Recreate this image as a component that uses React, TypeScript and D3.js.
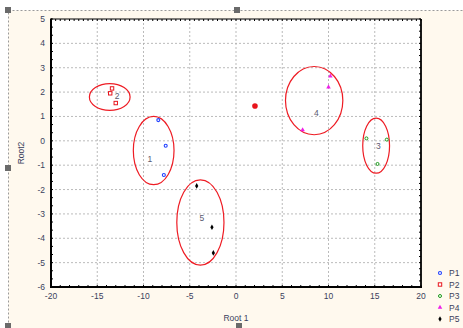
import React from "react";
import * as d3 from "d3";

const xTicks = [-20, -15, -10, -5, 0, 5, 10, 15, 20];
const yTicks = [5, 4, 3, 2, 1, 0, -1, -2, -3, -4, -5, -6];

const seriesNames = ["P1", "P2", "P3", "P4", "P5"];
const seriesColors = ["#1f3fff", "#e8141c", "#1a9a1a", "#ee1ee8", "#000000"];
const p1x = [-8.4, -7.6, -7.8];
const p1y = [0.85, -0.2, -1.4];
const p2x = [-13.4, -13.6, -13.0];
const p2y = [2.15, 1.95, 1.55];
const p3x = [14.1, 16.3, 15.3];
const p3y = [0.1, 0.05, -0.95];
const p4x = [10.2, 10.0, 7.2];
const p4y = [2.65, 2.2, 0.45];
const p5x = [-4.25, -2.6, -2.45];
const p5y = [-1.85, -3.55, -4.6];

const extraPoint = [2.05, 1.43];

const ellipseLabels = ["1", "2", "3", "4", "5"];
const ellipseCx = [-8.9, -13.65, 15.15, 8.45, -3.85];
const ellipseCy = [-0.4, 1.8, -0.2, 1.65, -3.35];
const ellipseRx = [2.2, 2.2, 1.45, 3.1, 2.55];
const ellipseRy = [1.4, 0.55, 1.13, 1.4, 1.75];
const labelX = [-9.3, -12.85, 15.4, 8.7, -3.7];
const labelY = [-0.76, 1.85, -0.2, 1.15, -3.18];

const W = 463;
const H = 328;
const L = 51, R = 421, T = 19, B = 287;

const x = d3.scaleLinear().domain([-20, 20]).range([L, R]);
const y = d3.scaleLinear().domain([-6, 5]).range([B, T]);

const txtColor = "#3a3f5c";
const font = "'Liberation Sans', Arial, sans-serif";

function Marker({ i, cx, cy }: { i: number; cx: number; cy: number }) {
  const c = seriesColors[i];
  if (i === 0)
    return <circle cx={cx} cy={cy} r={1.5} fill="#fff" stroke={c} strokeWidth={1.1} />;
  if (i === 1)
    return <rect x={cx - 1.7} y={cy - 1.7} width={3.4} height={3.4} fill="#fff" stroke={c} strokeWidth={1} />;
  if (i === 2)
    return <circle cx={cx} cy={cy} r={1.5} fill="#fff" stroke={c} strokeWidth={1} />;
  if (i === 3)
    return <path d={d3.symbol(d3.symbolTriangle, 9)()!} transform={`translate(${cx},${cy})`} fill={c} />;
  return <path d={d3.symbol(d3.symbolDiamond, 9)()!} transform={`translate(${cx},${cy})`} fill={c} />;
}

export default function App() {
  const xs = [p1x, p2x, p3x, p4x, p5x];
  const ys = [p1y, p2y, p3y, p4y, p5y];
  const topMinor = d3.range(-20, 20.01, 0.5);
  const botMinor = d3.range(-20, 20.01, 1);
  const leftMinor = d3.range(-6, 5.01, 1 / 3);
  const rightMinor = d3.range(-6, 5.01, 0.25);
  const gridX = xTicks.slice(1, -1);
  const gridY = yTicks.slice(1, -1);
  const handles = [
    [8, 10], [237, 10], [8, 168], [8, 326], [239, 326],
  ];
  return (
    <svg width={W} height={H} style={{ position: "absolute", left: 0, top: 0 }} fontFamily={font}>
      <rect x={0} y={0} width={W} height={H} fill="#fff" />
      <rect x={8.5} y={10.5} width={470} height={340} fill="#fff9ee" stroke="#9a9a9a" strokeDasharray="2,2" />
      <rect x={L} y={T} width={R - L} height={B - T} fill="#fff" />
      {gridX.map((v) => (
        <line key={"gx" + v} x1={x(v)} x2={x(v)} y1={T} y2={B} stroke="#aaa" strokeDasharray="2,2" strokeWidth={0.8} />
      ))}
      {gridY.map((v) => (
        <line key={"gy" + v} x1={L} x2={R} y1={y(v)} y2={y(v)} stroke="#aaa" strokeDasharray="2,2" strokeWidth={0.8} />
      ))}
      {topMinor.map((v, k) => (
        <line key={"tm" + k} x1={x(v)} x2={x(v)} y1={T} y2={T + 2} stroke="#000" strokeWidth={1} />
      ))}
      {botMinor.map((v, k) => (
        <line key={"bm" + k} x1={x(v)} x2={x(v)} y1={B} y2={B - 2} stroke="#000" strokeWidth={1} />
      ))}
      {leftMinor.map((v, k) => (
        <line key={"lm" + k} x1={L} x2={L + 2} y1={y(v)} y2={y(v)} stroke="#000" strokeWidth={1} />
      ))}
      {rightMinor.map((v, k) => (
        <line key={"rm" + k} x1={R} x2={R - 2} y1={y(v)} y2={y(v)} stroke="#000" strokeWidth={1} />
      ))}
      <line x1={L} x2={R} y1={T} y2={T} stroke="#000" strokeWidth={1.2} />
      <line x1={R} x2={R} y1={T} y2={B} stroke="#000" strokeWidth={1.8} />
      <line x1={L} x2={L} y1={T - 0.5} y2={B + 1} stroke="#000" strokeWidth={2} />
      <line x1={L - 1} x2={R + 1} y1={B} y2={B} stroke="#000" strokeWidth={2} />
      {xTicks.map((v) => (
        <text key={"xt" + v} x={x(v)} y={B + 12} fontSize={8.5} textAnchor="middle" fill={txtColor}>
          {v}
        </text>
      ))}
      {yTicks.map((v) => (
        <text key={"yt" + v} x={L - 6} y={y(v) + 3} fontSize={8.5} textAnchor="end" fill={txtColor}>
          {v}
        </text>
      ))}
      <text x={236} y={321} fontSize={8.5} textAnchor="middle" fill={txtColor}>Root 1</text>
      <text transform="translate(24,153) rotate(-90)" fontSize={8.5} textAnchor="middle" fill={txtColor}>Root2</text>
      {ellipseCx.map((cx, i) => (
        <ellipse
          key={"el" + i}
          cx={x(cx)}
          cy={y(ellipseCy[i])}
          rx={x(ellipseRx[i]) - x(0)}
          ry={y(0) - y(ellipseRy[i])}
          fill="none"
          stroke="#ee1c24"
          strokeWidth={1.2}
        />
      ))}
      {ellipseLabels.map((t, i) => (
        <text key={"lb" + i} x={x(labelX[i])} y={y(labelY[i]) + 3} fontSize={8.5} textAnchor="middle" fill="#5a5a70">
          {t}
        </text>
      ))}
      <circle cx={x(extraPoint[0])} cy={y(extraPoint[1])} r={2.8} fill="#e8141c" />
      {xs.map((arr, i) =>
        arr.map((v, j) => <Marker key={`m${i}-${j}`} i={i} cx={x(v)} cy={y(ys[i][j])} />)
      )}
      {seriesNames.map((n, i) => (
        <g key={"lg" + i}>
          <Marker i={i} cx={440} cy={273 + i * 11.5} />
          <text x={449} y={276 + i * 11.5} fontSize={8.5} fill={txtColor}>{n}</text>
        </g>
      ))}
      {handles.map(([hx, hy], k) => (
        <rect key={"h" + k} x={hx - 3} y={hy - 3} width={6} height={6} fill="#6a6a6a" />
      ))}
    </svg>
  );
}
